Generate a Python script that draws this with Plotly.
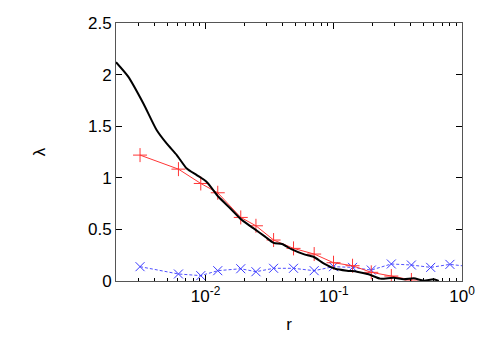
import plotly.graph_objects as go

# Black curve
r_black = [0.0020, 0.00249, 0.00327, 0.00416, 0.00498, 0.00596, 0.00713, 0.00853,
           0.0102, 0.0126, 0.0156, 0.0192, 0.0237, 0.0291, 0.0339, 0.0394, 0.0471,
           0.0581, 0.0695, 0.0832, 0.1026, 0.1265, 0.1514, 0.1866, 0.230, 0.293,
           0.351, 0.420, 0.502, 0.601, 0.659]
lam_black = [2.12, 1.98, 1.72, 1.46, 1.33, 1.22, 1.09, 1.026, 0.96, 0.816, 0.703,
             0.59, 0.51, 0.43, 0.37, 0.358, 0.306, 0.26, 0.235, 0.171, 0.119, 0.10,
             0.09, 0.065, 0.023, 0.032, 0.016, 0.026, 0.003, 0.016, 0.0]

# Red series (+)
r_red = [0.00308, 0.00614, 0.00917, 0.01244, 0.0188, 0.0247, 0.0339, 0.0485,
         0.0703, 0.0995, 0.140, 0.196, 0.281, 0.403]
lam_red = [1.22, 1.084, 0.945, 0.855, 0.616, 0.535, 0.397, 0.316, 0.261, 0.177,
           0.148, 0.084, 0.048, 0.01]

# Blue series (x)
r_blue = [0.00308, 0.00614, 0.00917, 0.01244, 0.0188, 0.0247, 0.0339, 0.0485,
          0.0703, 0.0995, 0.140, 0.196, 0.281, 0.403, 0.57, 0.805, 1.14]
lam_blue = [0.139, 0.068, 0.052, 0.10, 0.119, 0.09, 0.123, 0.123, 0.10, 0.139,
            0.132, 0.106, 0.165, 0.155, 0.132, 0.161, 0.14]

x_tickvals = [0.01, 0.1, 1]
x_ticktext = ["10<sup>-2</sup>", "10<sup>-1</sup>", "10<sup>0</sup>"]
x_minor = [m * d for d in (0.001, 0.01, 0.1) for m in range(2, 10)]
y_tickvals = [0, 0.5, 1, 1.5, 2, 2.5]

fig = go.Figure()
fig.add_trace(go.Scatter(x=r_blue, y=lam_blue, mode="lines+markers",
                         line=dict(color="#5050ff", width=1, dash="3px,2px"),
                         marker=dict(symbol="x-thin", size=9,
                                     line=dict(color="#3a3aff", width=1))))
fig.add_trace(go.Scatter(x=r_red, y=lam_red, mode="lines+markers",
                         line=dict(color="#ff3535", width=1),
                         marker=dict(symbol="cross-thin", size=10,
                                     line=dict(color="#ff3535", width=1))))
fig.add_trace(go.Scatter(x=r_black, y=lam_black, mode="lines",
                         line=dict(color="black", width=2, shape="spline", smoothing=0.6)))

font = "Liberation Sans"
fig.update_layout(
    width=491, height=343,
    margin=dict(l=116, r=29, t=23, b=62),
    paper_bgcolor="white", plot_bgcolor="white",
    showlegend=False,
    font=dict(family=font, size=17, color="black"),
    xaxis=dict(type="log", range=[-2.699, 0], tickvals=x_tickvals, ticktext=x_ticktext,
               ticks="inside", ticklen=6, tickcolor="black", tickwidth=1,
               minor=dict(tickvals=x_minor, ticks="inside", ticklen=3, tickcolor="black"),
               showline=True, linecolor="#555", linewidth=1, mirror="ticks",
               showgrid=False, zeroline=False, automargin=False,
               title=dict(text="r", font=dict(size=17), standoff=12),
               tickfont=dict(size=17)),
    yaxis=dict(range=[0, 2.5], tickvals=y_tickvals,
               ticks="inside", ticklen=6, tickcolor="black", tickwidth=1,
               showline=True, linecolor="#555", linewidth=1, mirror="ticks",
               showgrid=False, zeroline=False, automargin=False,
               title=dict(text="λ", font=dict(size=17), standoff=38),
               tickfont=dict(size=17)),
)
fig.write_html("out.html", config={"displayModeBar": False},
               post_script="document.body.style.margin='0px';document.body.style.overflow='hidden';")
